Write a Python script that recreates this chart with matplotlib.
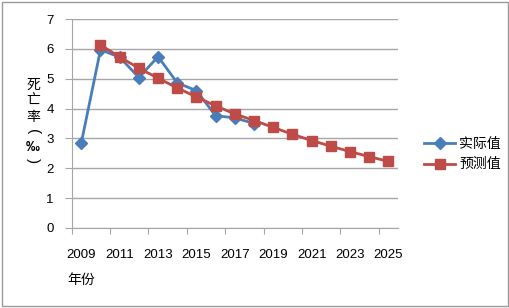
import matplotlib
matplotlib.use("Agg")
import matplotlib.pyplot as plt
from matplotlib.patches import Rectangle
from matplotlib.lines import Line2D

plt.rcParams['font.family'] = ['Liberation Sans', 'Noto Sans CJK SC', 'DejaVu Sans']

years = list(range(2009, 2026))
actual_years = [2009, 2010, 2011, 2012, 2013, 2014, 2015, 2016, 2017, 2018]
actual = [2.85, 5.97, 5.72, 5.04, 5.74, 4.86, 4.60, 3.76, 3.69, 3.50]
pred_years = list(range(2010, 2026))
predicted = [6.13, 5.73, 5.35, 5.02, 4.69, 4.39, 4.09, 3.82, 3.60, 3.37,
             3.14, 2.93, 2.74, 2.56, 2.39, 2.23]
tick_labels = [str(y) for y in range(2009, 2026, 2)]
yticks = list(range(0, 8))

blue = '#4A7EBB'
red = '#BE4B48'
grid = '#A6A6A6'
cjk = ['Noto Sans CJK SC', 'DejaVu Sans']

fig = plt.figure(figsize=(5.10, 3.08), dpi=100)
fig.patches.append(Rectangle((0.004, 0.006), 0.992, 0.988, transform=fig.transFigure,
                             fill=False, edgecolor='#9A9A9A', linewidth=1.0))

ax = fig.add_axes([71.7 / 510, 1 - 228 / 308, (398 - 71.7) / 510, (228 - 19) / 308])

xa = [years.index(y) for y in actual_years]
xp = [years.index(y) for y in pred_years]
ax.plot(xa, actual, color=blue, lw=2.0, marker='D', ms=6.5, mfc=blue, mec=blue,
        label='实际值', zorder=3)
ax.plot(xp, predicted, color=red, lw=2.0, marker='s', ms=7.5, mfc=red, mec=red,
        label='预测值', zorder=4)

ax.set_xlim(-0.5, len(years) - 0.5)
ax.set_ylim(0, 7)
ax.set_yticks(yticks)
ax.yaxis.grid(True, color=grid, linewidth=1.0)
ax.set_axisbelow(True)

# major ticks at category boundaries (no label), minor at categories with labels
ax.set_xticks([i - 0.5 for i in range(0, len(years), 2)])
ax.set_xticklabels([])
ax.set_xticks(list(range(0, len(years), 2)), minor=True)
ax.set_xticklabels(tick_labels, minor=True)
ax.tick_params(axis='x', which='major', direction='out', length=4, color=grid)
ax.tick_params(axis='x', which='minor', length=0, pad=15, labelsize=9.5)
ax.tick_params(axis='y', direction='out', length=5, color=grid, pad=8, labelsize=9.5)

for s in ['top', 'right']:
    ax.spines[s].set_visible(False)
ax.spines['left'].set_color(grid)
ax.spines['bottom'].set_color(grid)

# vertical y-axis title: 死亡率（‰）
fig.text(33 / 510, 1 - 101 / 308, '死\n亡\n率', ha='center', va='center',
         fontsize=10, linespacing=1.16, family=cjk)
fig.text(33 / 510, 1 - 132 / 308, '(', ha='center', va='center', rotation=-90,
         fontsize=11, family='Liberation Sans')
fig.text(33 / 510, 1 - 147 / 308, '‰', ha='center', va='center',
         fontsize=10, family='Liberation Sans', fontweight='bold')
fig.text(33 / 510, 1 - 161 / 308, ')', ha='center', va='center', rotation=-90,
         fontsize=11, family='Liberation Sans')
fig.text(67 / 510, 1 - 280 / 308, '年份', ha='left', va='center', fontsize=10,
         family=cjk)

handles = [Line2D([], [], color=blue, lw=2.0, marker='D', ms=6.5),
           Line2D([], [], color=red, lw=2.0, marker='s', ms=7.5)]
fig.legend(handles, ['实际值', '预测值'], loc='center left',
           bbox_to_anchor=(412 / 510, 1 - 154 / 308), frameon=False,
           prop={'family': cjk, 'size': 10},
           handlelength=2.2, handletextpad=0.3, labelspacing=0.5)

fig.savefig('out.png', dpi=100)
